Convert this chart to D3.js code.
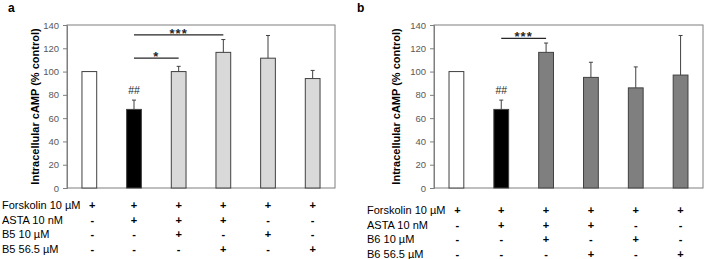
<!DOCTYPE html>
<html>
<head>
<meta charset="utf-8">
<script src="https://cdn.jsdelivr.net/npm/d3@7"></script>
<style>
body { margin: 0; background: #fff; }
svg { display: block; font-family: 'Liberation Sans', Arial, sans-serif; }
</style>
</head>
<body>
<svg width="709" height="259"></svg>
<script>
var WIDTH = 709;
var HEIGHT = 259;

// conditions (one per bar)
var conditions = ['FSK', 'FSK+ASTA', 'FSK+ASTA+low', 'FSK+ASTA+high', 'FSK+low', 'FSK+high'];

var valuesA = [100, 67.5, 100, 116.5, 111.5, 94];
var errorsA = [0, 8, 4.5, 11, 19.5, 7];
var fillsA = ['#ffffff', '#000000', '#d9d9d9', '#d9d9d9', '#d9d9d9', '#d9d9d9'];

var valuesB = [100, 67.5, 116.5, 95, 86, 97];
var errorsB = [0, 8, 8, 13, 18, 34];
var fillsB = ['#ffffff', '#000000', '#7f7f7f', '#7f7f7f', '#7f7f7f', '#7f7f7f'];

var yTicks = [0, 20, 40, 60, 80, 100, 120, 140];

var rowsA = ['Forskolin 10 \u00b5M', 'ASTA 10 nM', 'B5 10 \u00b5M', 'B5 56.5 \u00b5M'];
var rowsB = ['Forskolin 10 \u00b5M', 'ASTA 10 nM', 'B6 10 \u00b5M', 'B6 56.5 \u00b5M'];
var signs = [
    ['+', '+', '+', '+', '+', '+'],
    ['-', '+', '+', '+', '-', '-'],
    ['-', '-', '+', '-', '+', '-'],
    ['-', '-', '-', '+', '-', '+']
];

var sigA = [{from: 1, to: 3, y: 131.5, label: '***'}, {from: 1, to: 2, y: 111.5, label: '*'}];
var sigB = [{from: 1, to: 2, y: 128.5, label: '***'}];
var hashLabel = '##';
var hashValue = 81;

var svg = d3.select('svg');

function drawPanel(cfg) {
    var g = svg.append('g');
    var x = d3.scaleBand().domain(conditions)
        .range([cfg.left, cfg.right])
        .paddingInner(0.67).paddingOuter(0.335);
    var y = d3.scaleLinear().domain([0, 140]).range([188, 25]);

    // plot frame
    g.append('rect')
        .attr('x', cfg.left).attr('y', y(140))
        .attr('width', cfg.right - cfg.left).attr('height', y(0) - y(140))
        .attr('fill', 'none').attr('stroke', '#7f7f7f').attr('stroke-width', 1);

    var axis = g.append('g')
        .attr('transform', 'translate(' + cfg.left + ',0)')
        .call(d3.axisLeft(y).tickValues(yTicks).tickSize(4).tickPadding(4));
    axis.select('.domain').attr('stroke', '#7f7f7f');
    axis.selectAll('.tick line').attr('stroke', '#7f7f7f');
    axis.selectAll('.tick text').attr('fill', '#595959')
        .style('font-size', '9.5px').style('font-family', "'Liberation Sans', Arial, sans-serif");

    // y title
    g.append('text')
        .attr('transform', 'translate(' + cfg.titleX + ',' + ((y(0) + y(140)) / 2) + ') rotate(-90)')
        .attr('text-anchor', 'middle')
        .style('font-size', '11px').style('font-weight', 'bold')
        .text('Intracellular cAMP (% control)');

    // bars
    g.selectAll('rect.bar').data(cfg.values).enter().append('rect')
        .attr('class', 'bar')
        .attr('x', function(d, i) { return x(conditions[i]); })
        .attr('y', function(d) { return y(d); })
        .attr('width', x.bandwidth())
        .attr('height', function(d) { return y(0) - y(d); })
        .attr('fill', function(d, i) { return cfg.fills[i]; })
        .attr('stroke', '#404040').attr('stroke-width', 1);

    // error bars (upper only)
    var cx = function(i) { return x(conditions[i]) + x.bandwidth() / 2; };
    cfg.values.forEach(function(v, i) {
        var e = cfg.errors[i];
        if (!e) return;
        g.append('line')
            .attr('x1', cx(i)).attr('x2', cx(i))
            .attr('y1', y(v)).attr('y2', y(v + e))
            .attr('stroke', '#404040').attr('stroke-width', 1);
        g.append('line')
            .attr('x1', cx(i) - 2).attr('x2', cx(i) + 2)
            .attr('y1', y(v + e)).attr('y2', y(v + e))
            .attr('stroke', '#404040').attr('stroke-width', 1);
    });

    // ## marker
    g.append('text')
        .attr('x', cx(1)).attr('y', y(hashValue))
        .attr('text-anchor', 'middle')
        .style('font-size', '10.5px').attr('fill', '#262626')
        .text(hashLabel);

    // significance brackets
    cfg.sig.forEach(function(s) {
        g.append('line')
            .attr('x1', cx(s.from)).attr('x2', cx(s.to))
            .attr('y1', y(s.y)).attr('y2', y(s.y))
            .attr('stroke', '#262626').attr('stroke-width', 1.2);
        g.append('text')
            .attr('x', (cx(s.from) + cx(s.to)) / 2).attr('y', y(s.y) + 3)
            .attr('text-anchor', 'middle')
            .style('font-size', '13px').style('font-weight', 'bold')
            .style('letter-spacing', '1px').attr('fill', '#262626')
            .text(s.label);
    });

    // panel letter
    g.append('text')
        .attr('x', cfg.letterX).attr('y', 12)
        .style('font-size', '12px').style('font-weight', 'bold')
        .text(cfg.letter);

    // condition table
    cfg.rows.forEach(function(r, ri) {
        var ty = cfg.rowY + ri * 14.5;
        g.append('text')
            .attr('x', cfg.labelX).attr('y', ty)
            .style('font-size', '11px').attr('fill', '#000')
            .text(r);
        signs[ri].forEach(function(s, ci) {
            g.append('text')
                .attr('x', cx(ci) + (ci === 0 ? cfg.firstShift : 0)).attr('y', ty)
                .attr('text-anchor', 'middle')
                .style('font-size', '11px').style('font-weight', 'bold')
                .text(s);
        });
    });
}

drawPanel({left: 67, right: 335, values: valuesA, errors: errorsA, fills: fillsA,
    sig: sigA, rows: rowsA, letter: 'a', letterX: 8, titleX: 39, labelX: 2, rowY: 209, firstShift: 3});
drawPanel({left: 434, right: 703, values: valuesB, errors: errorsB, fills: fillsB,
    sig: sigB, rows: rowsB, letter: 'b', letterX: 357, titleX: 400, labelX: 367, rowY: 214, firstShift: 1});
</script>
</body>
</html>
